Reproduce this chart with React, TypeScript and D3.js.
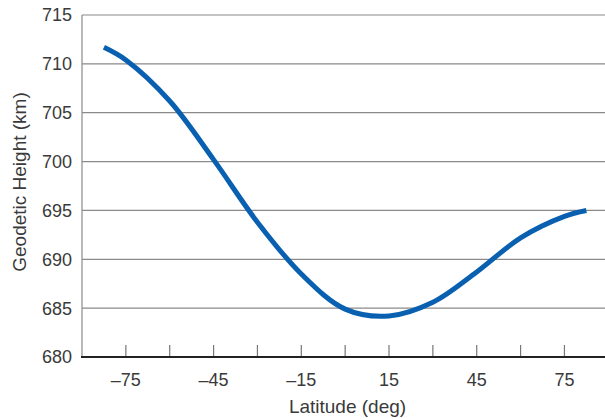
import React from "react";
import * as d3 from "d3";

const latitudes = [-82.5, -75, -60, -45, -30, -15, 0, 15, 30, 45, 60, 75, 82.5];
const heights = [711.7, 710.4, 706.2, 700.2, 693.8, 688.5, 684.9, 684.2, 685.6, 688.7, 692.2, 694.4, 695.0];
const xTickValues = [-75, -45, -15, 15, 45, 75];
const xMinorTicks = [-75, -60, -45, -30, -15, 0, 15, 30, 45, 60, 75];
const yTickValues = [680, 685, 690, 695, 700, 705, 710, 715];

const W = 605;
const H = 419;
const M = { left: 82, right: 605, top: 15, bottom: 357 };

export default function App() {
  const x = d3.scaleLinear().domain([-90, 90]).range([M.left, 345.5 + 90 * 2.92]);
  const y = d3.scaleLinear().domain([680, 715]).range([M.bottom, M.top]);
  const pts: [number, number][] = latitudes.map((l, i) => [l, heights[i]]);
  const line = d3
    .line<[number, number]>()
    .x((d) => x(d[0]))
    .y((d) => y(d[1]))
    .curve(d3.curveCatmullRom.alpha(0.5));
  const font = "'Liberation Sans', Arial, sans-serif";
  const txt = "#3a3a3a";
  const fmt = (v: number) => (v < 0 ? "\u2013" + Math.abs(v) : String(v));
  return (
    <svg
      width={W}
      height={H}
      style={{ position: "absolute", left: 0, top: 0, background: "#fff" }}
      fontFamily={font}
    >
      {yTickValues.map((v) => (
        <g key={v}>
          {v !== 680 && (
            <line x1={M.left} x2={M.right} y1={y(v)} y2={y(v)} stroke="#8a8a8a" strokeWidth={1.2} />
          )}
          <text x={72} y={y(v)} dy="0.36em" textAnchor="end" fontSize={18} fill={txt}>
            {v}
          </text>
        </g>
      ))}
      <line x1={M.left} x2={M.left} y1={M.top} y2={M.bottom} stroke="#8a8a8a" strokeWidth={1.2} />
      {xMinorTicks.map((v) => (
        <line key={v} x1={x(v)} x2={x(v)} y1={M.bottom - 12} y2={M.bottom} stroke="#777" strokeWidth={1.2} />
      ))}
      <line x1={M.left - 1} x2={M.right} y1={M.bottom} y2={M.bottom} stroke="#222" strokeWidth={2.2} />
      {xTickValues.map((v) => (
        <text key={v} x={x(v)} y={386} textAnchor="middle" fontSize={18} fill={txt}>
          {fmt(v)}
        </text>
      ))}
      <text x={347.5} y={413} textAnchor="middle" fontSize={19} fill={txt}>
        Latitude (deg)
      </text>
      <text
        transform={`translate(26, 182) rotate(-90)`}
        textAnchor="middle"
        fontSize={19}
        fill={txt}
      >
        Geodetic Height (km)
      </text>
      <path d={line(pts) || ""} fill="none" stroke="#0a60b0" strokeWidth={5} strokeLinecap="butt" />
    </svg>
  );
}
